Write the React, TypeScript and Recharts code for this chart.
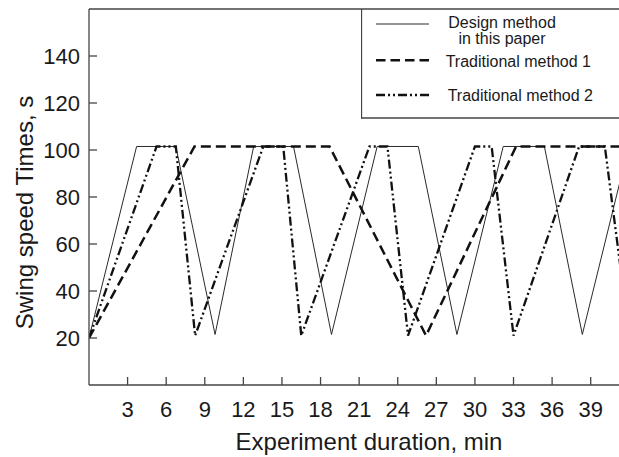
import React from 'react';
import { LineChart, Line, XAxis, YAxis, ReferenceLine, Legend, Label } from 'recharts';

const FONT = '"Liberation Sans", Arial, Helvetica, sans-serif';

const xTicks = [3, 6, 9, 12, 15, 18, 21, 24, 27, 30, 33, 36, 39];
const yTicks = [20, 40, 60, 80, 100, 120, 140];

const designTime = [0, 3.7, 6.75, 9.8, 12.8, 15.9, 18.85, 22.4, 25.6, 28.6, 32.2, 35.4, 38.35, 41.95];
const designValue = [20, 101.5, 101.5, 21.5, 101.5, 101.5, 21.5, 101.5, 101.5, 21.5, 101.5, 101.5, 21.5, 101.5];

const trad1Time = [0, 8.2, 18.7, 26.2, 33.2, 42];
const trad1Value = [20, 101.5, 101.5, 21, 101.5, 101.5];

const trad2Time = [0, 5.25, 6.75, 8.25, 13.55, 15.1, 16.5, 21.8, 23.2, 24.8, 30.0, 31.3, 33.0, 38.1, 40.1, 42.0];
const trad2Value = [20, 101.5, 101.5, 21, 101.5, 101.5, 21, 101.5, 101.5, 21, 101.5, 101.5, 21, 101.5, 101.5, 21];

const seriesNames = ['Design method\nin this paper', 'Traditional method 1', 'Traditional method 2'];

const toRows = (t: number[], v: number[]) => t.map((x, i) => ({ t: x, v: v[i] }));
const designData = toRows(designTime, designValue);
const trad1Data = toRows(trad1Time, trad1Value);
const trad2Data = toRows(trad2Time, trad2Value);

const styles = [
  { stroke: '#2a2a2a', strokeWidth: 1, dash: undefined as string | undefined },
  { stroke: '#111', strokeWidth: 2.5, dash: '10 5' },
  { stroke: '#111', strokeWidth: 2.3, dash: '9 3 2 3 2 3' },
];

const AXIS = '#444';
const TEXT = '#1a1a1a';

const LegendBox = () => {
  return (
    <svg width={258} height={110} style={{ display: 'block' }}>
      <line x1={0.5} y1={0} x2={0.5} y2={109.5} stroke={AXIS} strokeWidth={1.3} />
      <line x1={0} y1={109} x2={258} y2={109} stroke={AXIS} strokeWidth={1.3} />
      <line x1={15} y1={15} x2={68} y2={15} stroke={styles[0].stroke} strokeWidth={styles[0].strokeWidth} />
      <text x={141} y={18.5} textAnchor="middle" fontSize={16} fontFamily={FONT} fill={TEXT}>
        {seriesNames[0].split('\n')[0]}
      </text>
      <text x={141} y={35} textAnchor="middle" fontSize={16} fontFamily={FONT} fill={TEXT}>
        {seriesNames[0].split('\n')[1]}
      </text>
      <line x1={15} y1={51.3} x2={68} y2={51.3} stroke={styles[1].stroke} strokeWidth={styles[1].strokeWidth} strokeDasharray="9.5 5" />
      <text x={84.7} y={57.7} fontSize={16} fontFamily={FONT} fill={TEXT}>{seriesNames[1]}</text>
      <line x1={15} y1={86} x2={68} y2={86} stroke={styles[2].stroke} strokeWidth={styles[2].strokeWidth} strokeDasharray={styles[2].dash} />
      <text x={86.7} y={92} fontSize={16} fontFamily={FONT} fill={TEXT}>{seriesNames[2]}</text>
    </svg>
  );
};

const XLabel = (props: any) => {
  const vb = props.viewBox || { x: 89, y: 385, width: 530, height: 72 };
  return (
    <text x={vb.x + vb.width / 2 + 15} y={vb.y + 65} textAnchor="middle" fontSize={24} fontFamily={FONT} fill={TEXT}>
      Experiment duration, min
    </text>
  );
};

const YLabel = (props: any) => {
  const vb = props.viewBox || { x: 0, y: 9, width: 89, height: 376 };
  const x = vb.x + 33;
  const y = vb.y + vb.height / 2 + 15.5;
  return (
    <text x={x} y={y} transform={`rotate(-90, ${x}, ${y})`} textAnchor="middle" fontSize={24} fontFamily={FONT} fill={TEXT}>
      Swing speed Times, s
    </text>
  );
};

export default function App() {
  return (
    <div style={{ position: 'absolute', left: 0, top: 0, width: 619, height: 457, background: '#fff' }}>
      <LineChart width={619} height={457} margin={{ top: 9, right: 0, left: 0, bottom: 0 }}>
        <XAxis
          type="number"
          dataKey="t"
          domain={[0, 41.2]}
          allowDataOverflow
          ticks={xTicks}
          interval={0}
          height={72}
          tickSize={-8}
          tickMargin={24}
          stroke={AXIS}
          strokeWidth={1.3}
          tick={{ fill: TEXT, fontSize: 22, fontFamily: FONT }}
        >
          <Label content={XLabel} />
        </XAxis>
        <YAxis
          type="number"
          domain={[0, 160]}
          allowDataOverflow
          ticks={yTicks}
          interval={0}
          width={89}
          tickSize={-8}
          tickMargin={17}
          stroke={AXIS}
          strokeWidth={1.3}
          tick={{ fill: TEXT, fontSize: 22, fontFamily: FONT }}
        >
          <Label content={YLabel} />
        </YAxis>
        <ReferenceLine y={160} stroke={AXIS} strokeWidth={1.3} />
        <Legend
          layout="vertical"
          align="center"
          verticalAlign="middle"
          content={() => <LegendBox />}
          wrapperStyle={{ left: 361, top: 9, width: 258, height: 110, right: 'auto', bottom: 'auto' }}
        />
        <Line data={designData} dataKey="v" name={seriesNames[0]} type="linear" dot={false} activeDot={false}
          stroke={styles[0].stroke} strokeWidth={styles[0].strokeWidth} isAnimationActive={false} />
        <Line data={trad1Data} dataKey="v" name={seriesNames[1]} type="linear" dot={false} activeDot={false}
          stroke={styles[1].stroke} strokeWidth={styles[1].strokeWidth} strokeDasharray={styles[1].dash} isAnimationActive={false} />
        <Line data={trad2Data} dataKey="v" name={seriesNames[2]} type="linear" dot={false} activeDot={false}
          stroke={styles[2].stroke} strokeWidth={styles[2].strokeWidth} strokeDasharray={styles[2].dash} isAnimationActive={false} />
      </LineChart>
    </div>
  );
}
